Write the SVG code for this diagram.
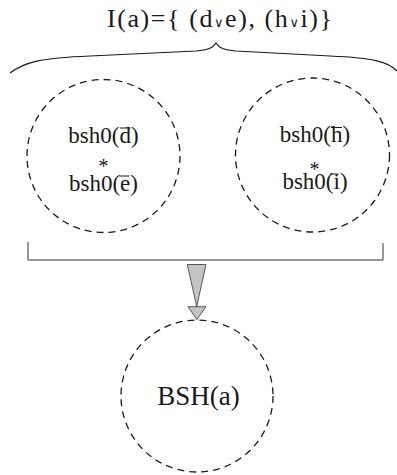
<svg xmlns="http://www.w3.org/2000/svg" width="397" height="475" viewBox="0 0 397 475">
<style>
text{font-family:"Liberation Serif","Times New Roman",serif;fill:#1a1a1a;text-anchor:middle}
.node{fill:none;stroke:#1a1a1a;stroke-width:1.3;stroke-dasharray:7 5}
.lbl{font-size:23px}
.ast{font-size:20px}
.bar{stroke:#1a1a1a;stroke-width:1}
.conn{fill:none;stroke:#333;stroke-width:1}
.tri{fill:#c4c4c4;stroke:#333;stroke-width:0.8}
</style>
<g id="title">
<text x="219.5" y="26.5" font-size="26" textLength="225" lengthAdjust="spacing">I(a)={ (d<tspan font-size="13" font-family="DejaVu Sans, sans-serif">∨</tspan>e), (h<tspan font-size="13" font-family="DejaVu Sans, sans-serif">∨</tspan>i)}</text>
<path d="M10,73 C25,62 40,58 90,56 L196,51 C208,50 213,48 216,43 C219,48 224,50 236,51 L330,56 C375,58 388,62 397,71" fill="none" stroke="#1a1a1a" stroke-width="1.2"/>
</g>
<g id="node-de">
<circle class="node" cx="103.5" cy="156" r="76.5"/>
<text class="lbl"><tspan x="103.5" y="143">bsh0(d)</tspan><tspan class="ast" x="103.5" y="172.5">*</tspan><tspan x="103.5" y="191">bsh0(e)</tspan></text>
<line class="bar" x1="120" y1="128" x2="130.5" y2="128"/>
<line class="bar" x1="119.5" y1="176" x2="129.5" y2="176"/>
</g>
<g id="node-hi">
<circle class="node" cx="312.5" cy="155" r="77"/>
<text class="lbl"><tspan x="315" y="142">bsh0(h)</tspan><tspan class="ast" x="314.5" y="175.5">*</tspan><tspan x="315" y="189">bsh0(i)</tspan></text>
<line class="bar" x1="331" y1="127.5" x2="342" y2="127.5"/>
<line class="bar" x1="330" y1="174" x2="338.5" y2="174"/>
</g>
<g id="node-bsh">
<circle class="node" cx="197" cy="396" r="76"/>
<text x="198.5" y="405" font-size="27">BSH(a)</text>
</g>
<g id="connectors">
<polyline class="conn" points="28,242 28,260 383,260 383,243"/>
<polygon class="tri" points="187.3,264.5 206,264.5 196.7,306.7"/>
<polygon class="tri" points="188,306.7 206,306.7 196.8,319.5"/>
</g>
</svg>
